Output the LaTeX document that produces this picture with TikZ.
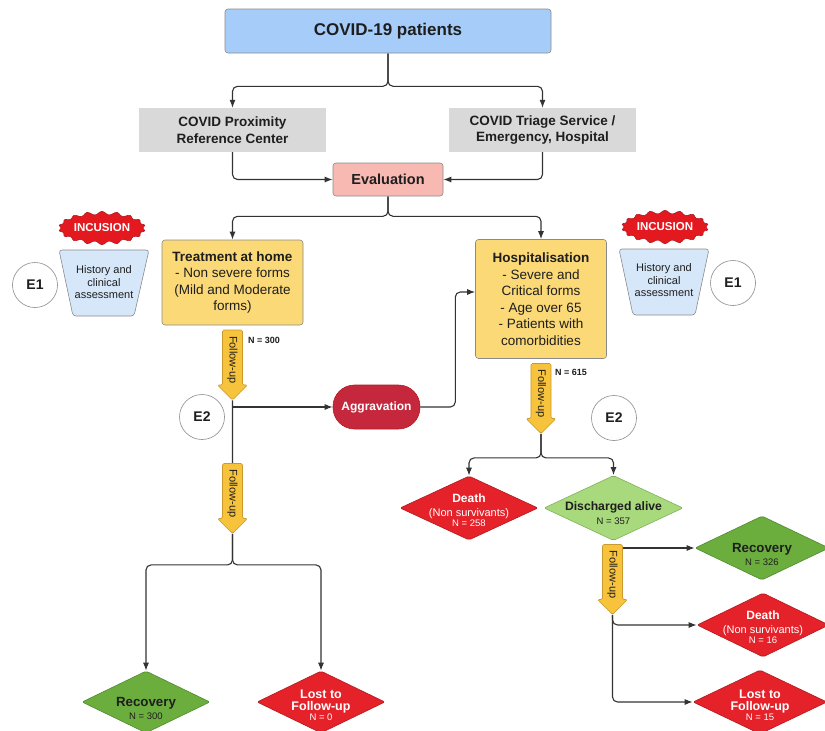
\documentclass[tikz,border=0pt]{standalone}
\usepackage{fontspec}
\setmainfont{Liberation Sans}
\usetikzlibrary{shapes.geometric,shapes.symbols,shapes.arrows,arrows.meta,backgrounds}
\definecolor{cblue}{HTML}{A6CDF9}
\definecolor{cgrey}{HTML}{D9D9D9}
\definecolor{cpink}{HTML}{F8B9B2}
\definecolor{cyellow}{HTML}{FCD977}
\definecolor{corange}{HTML}{F8C33C}
\definecolor{corangeb}{HTML}{C99A2E}
\definecolor{ctrap}{HTML}{D6E7FA}
\definecolor{cgreen}{HTML}{6CAE3E}
\definecolor{cgreenb}{HTML}{4F8A2C}
\definecolor{clgreen}{HTML}{A8D97C}
\definecolor{clgreenb}{HTML}{7FB25A}
\definecolor{cred}{HTML}{E5222A}
\definecolor{credb}{HTML}{B01A1F}
\definecolor{cagg}{HTML}{C5283D}
\definecolor{cburst}{HTML}{E3191F}
\definecolor{cborder}{HTML}{8A8A8A}
\definecolor{cline}{HTML}{333333}
\definecolor{ctxt}{HTML}{1E1E1E}
\begin{document}
\begin{tikzpicture}[x=1pt,y=-1pt,
  box/.style={draw=cborder, line width=0.6pt, rounded corners=3pt, inner sep=0pt, align=center, text=ctxt},
  greybox/.style={fill=cgrey, inner sep=0pt, align=center, text=ctxt, minimum width=187pt, minimum height=44pt,
     font=\bfseries\fontsize{13.5}{16.5}\selectfont},
  yellowbox/.style={box, fill=cyellow, font=\fontsize{13.5}{16.5}\selectfont},
  trapbox/.style={draw=cborder, line width=0.6pt, fill=ctrap, rounded corners=3pt},
  trapText/.style={align=center, text=ctxt, font=\fontsize{11}{12.5}\selectfont},
  burst/.style={starburst, starburst points=18, starburst point height=5pt, random starburst=0,
     fill=cburst, draw=credb, line width=0.6pt, minimum width=74pt, minimum height=35pt, inner sep=0pt,
     rounded corners=2.5pt, text=white, font=\bfseries\fontsize{11.5}{13}\selectfont},
  ecircle/.style={circle, draw=cborder, line width=0.6pt, fill=white, minimum size=45pt, inner sep=0pt,
     text=ctxt, font=\bfseries\fontsize{14}{16}\selectfont},
  fuarrow/.style={single arrow, rotate=-90, fill=corange, draw=corangeb, line width=0.6pt,
     minimum height=70pt, inner xsep=2pt, inner ysep=4.6pt, single arrow head extend=5pt,
     single arrow head indent=0pt, rounded corners=1.5pt, text=ctxt, font=\fontsize{11}{12}\selectfont},
  nlabel/.style={text=ctxt, inner sep=0pt, font=\bfseries\fontsize{9}{10}\selectfont},
  dia/.style={diamond, line width=0.6pt, inner sep=0pt, rounded corners=2pt},
  dtext/.style={align=center, inner sep=0pt},
  conn/.style={draw=cline, line width=1.1pt, rounded corners=5pt, -{Latex[length=8pt,width=6pt]}},
  plain/.style={draw=cline, line width=1.1pt, rounded corners=5pt}
]
\useasboundingbox (0,0) rectangle (825,731);

% top boxes
\node[box, fill=cblue, minimum width=326pt, minimum height=44pt, font=\bfseries\fontsize{17}{20}\selectfont] (c19) at (388,31) {COVID-19 patients};
\node[greybox] (prox) at (232.5,130) {COVID Proximity\\Reference Center};
\node[greybox] (triage) at (542.5,130) {COVID Triage Service /\\Emergency, Hospital};
\node[box, fill=cpink, minimum width=110pt, minimum height=33pt, font=\bfseries\fontsize{14.5}{17}\selectfont] (eval) at (388,179.5) {Evaluation};

% main boxes
\node[yellowbox, minimum width=141pt, minimum height=85pt] (home) at (232.5,282.5)
  {\textbf{Treatment at home}\\- Non severe forms\\(Mild and Moderate\\forms)};
\node[yellowbox, minimum width=131pt, minimum height=119pt] (hosp) at (541,299)
  {\textbf{Hospitalisation}\\- Severe and\\Critical forms\\- Age over 65\\- Patients with\\comorbidities};

% inclusion left
\draw[trapbox] (59,250) -- (149,250) -- (134,316) -- (73,316) -- cycle;
\node[trapText] (histL) at (104,282.5) {History and\\clinical\\assessment};
\node[burst] (incL) at (102,228) {INCUSION};
\node[ecircle] (e1L) at (35,285) {E1};

% inclusion right
\draw[trapbox] (619,249) -- (709,249) -- (695,315) -- (633,315) -- cycle;
\node[trapText] (histR) at (664,280.5) {History and\\clinical\\assessment};
\node[burst] (incR) at (665,227) {INCUSION};
\node[ecircle] (e1R) at (733,283) {E1};

% follow-up arrows
\node[fuarrow] (fu1) at (232.5,360) {Follow-up};
\node[fuarrow] (fu2) at (232.5,493.5) {Follow-up};
\node[fuarrow] (fuH) at (541,393.5) {Follow-up};
\node[fuarrow] (fu3) at (612.5,574.5) {Follow-up};
\node[nlabel, anchor=west] (n300) at (248,340) {N = 300};
\node[nlabel, anchor=west] (n615) at (555,372.5) {N = 615};

\node[ecircle] (e2L) at (202,417) {E2};
\node[ecircle] (e2R) at (614,418) {E2};

% aggravation
\node[draw=credb, line width=0.6pt, fill=cagg, rounded corners=21.5pt, minimum width=87pt, minimum height=44pt,
  inner sep=0pt, text=white, font=\bfseries\fontsize{12}{14}\selectfont] (agg) at (376.5,407) {Aggravation};

% diamonds
\node[dia, fill=cgreen, draw=cgreenb, minimum width=128pt, minimum height=62pt] (rec1) at (146,702) {};
\node[dia, fill=cred, draw=credb, minimum width=128pt, minimum height=62pt] (lost1) at (321,702) {};
\node[dia, fill=cred, draw=credb, minimum width=138pt, minimum height=64pt] (death1) at (469,508) {};
\node[dia, fill=clgreen, draw=clgreenb, minimum width=139pt, minimum height=65pt] (disc) at (613.5,508) {};
\node[dia, fill=cgreen, draw=cgreenb, minimum width=134pt, minimum height=64pt] (rec2) at (762,548) {};
\node[dia, fill=cred, draw=credb, minimum width=132pt, minimum height=64pt] (death2) at (763,625) {};
\node[dia, fill=cred, draw=credb, minimum width=134pt, minimum height=64pt] (lost2) at (760,702) {};

\node[dtext, text=ctxt] (rec1t) at (146,708.5)
  {{\bfseries\fontsize{13.3}{15}\selectfont Recovery}\\[1pt]{\fontsize{9.5}{11}\selectfont N = 300}};
\node[dtext, text=white] (lost1t) at (321,705)
  {{\bfseries\fontsize{12.5}{14}\selectfont Lost to}\\{\bfseries\fontsize{12.5}{14}\selectfont Follow-up}\\[-2.5pt]{\fontsize{9.5}{10}\selectfont N = 0}};
\node[dtext, text=white] (death1t) at (469,510)
  {{\bfseries\fontsize{12}{13}\selectfont Death}\\[2pt]{\fontsize{11}{12}\selectfont (Non survivants)}\\[-2pt]{\fontsize{9.5}{10}\selectfont N = 258}};
\node[dtext, text=ctxt] (disct) at (613.5,513.5)
  {{\bfseries\fontsize{12.2}{14}\selectfont Discharged alive}\\[2pt]{\fontsize{9.5}{11}\selectfont N = 357}};
\node[dtext, text=ctxt] (rec2t) at (762,554)
  {{\bfseries\fontsize{13.3}{15}\selectfont Recovery}\\[1pt]{\fontsize{9.5}{11}\selectfont N = 326}};
\node[dtext, text=white] (death2t) at (763,627)
  {{\bfseries\fontsize{12}{13}\selectfont Death}\\[2pt]{\fontsize{11}{12}\selectfont (Non survivants)}\\[-2pt]{\fontsize{9.5}{10}\selectfont N = 16}};
\node[dtext, text=white] (lost2t) at (760,705)
  {{\bfseries\fontsize{12.5}{14}\selectfont Lost to}\\{\bfseries\fontsize{12.5}{14}\selectfont Follow-up}\\[-2.5pt]{\fontsize{9.5}{10}\selectfont N = 15}};

% connectors
\begin{pgfonlayer}{background}
\draw[conn] (c19.south) -- ++(0,33) -| (prox.north);
\draw[conn] (c19.south) -- ++(0,33) -| (triage.north);
\draw[conn] (prox.south) |- (eval.west);
\draw[conn] (triage.south) |- (eval.east);
\draw[conn] (eval.south) -- ++(0,20) -| (home.north);
\draw[conn] (eval.south) -- ++(0,20) -| (hosp.north);
\draw[plain] (fu1.tip) -- (fu2.west);
\draw[conn] (fu1.tip |- agg.west) -- (agg.west);
\draw[conn] (agg.east) -- ++(35,0) |- ([yshift=7pt]hosp.west);
\draw[conn] (fu2.tip) -- ++(0,31) -| (rec1.north);
\draw[conn] (fu2.tip) -- ++(0,31) -| (lost1.north);
\draw[conn] (fuH.tip) -- ++(0,24) -| (death1.north);
\draw[conn] (fuH.tip) -- ++(0,24) -| (disc.north);
\draw[conn] (fu3.north |- rec2.west) -- (rec2.west);
\draw[conn] (fu3.tip) |- (death2.west);
\draw[conn] (fu3.tip) |- (lost2.west);
\end{pgfonlayer}
\end{tikzpicture}
\end{document}
